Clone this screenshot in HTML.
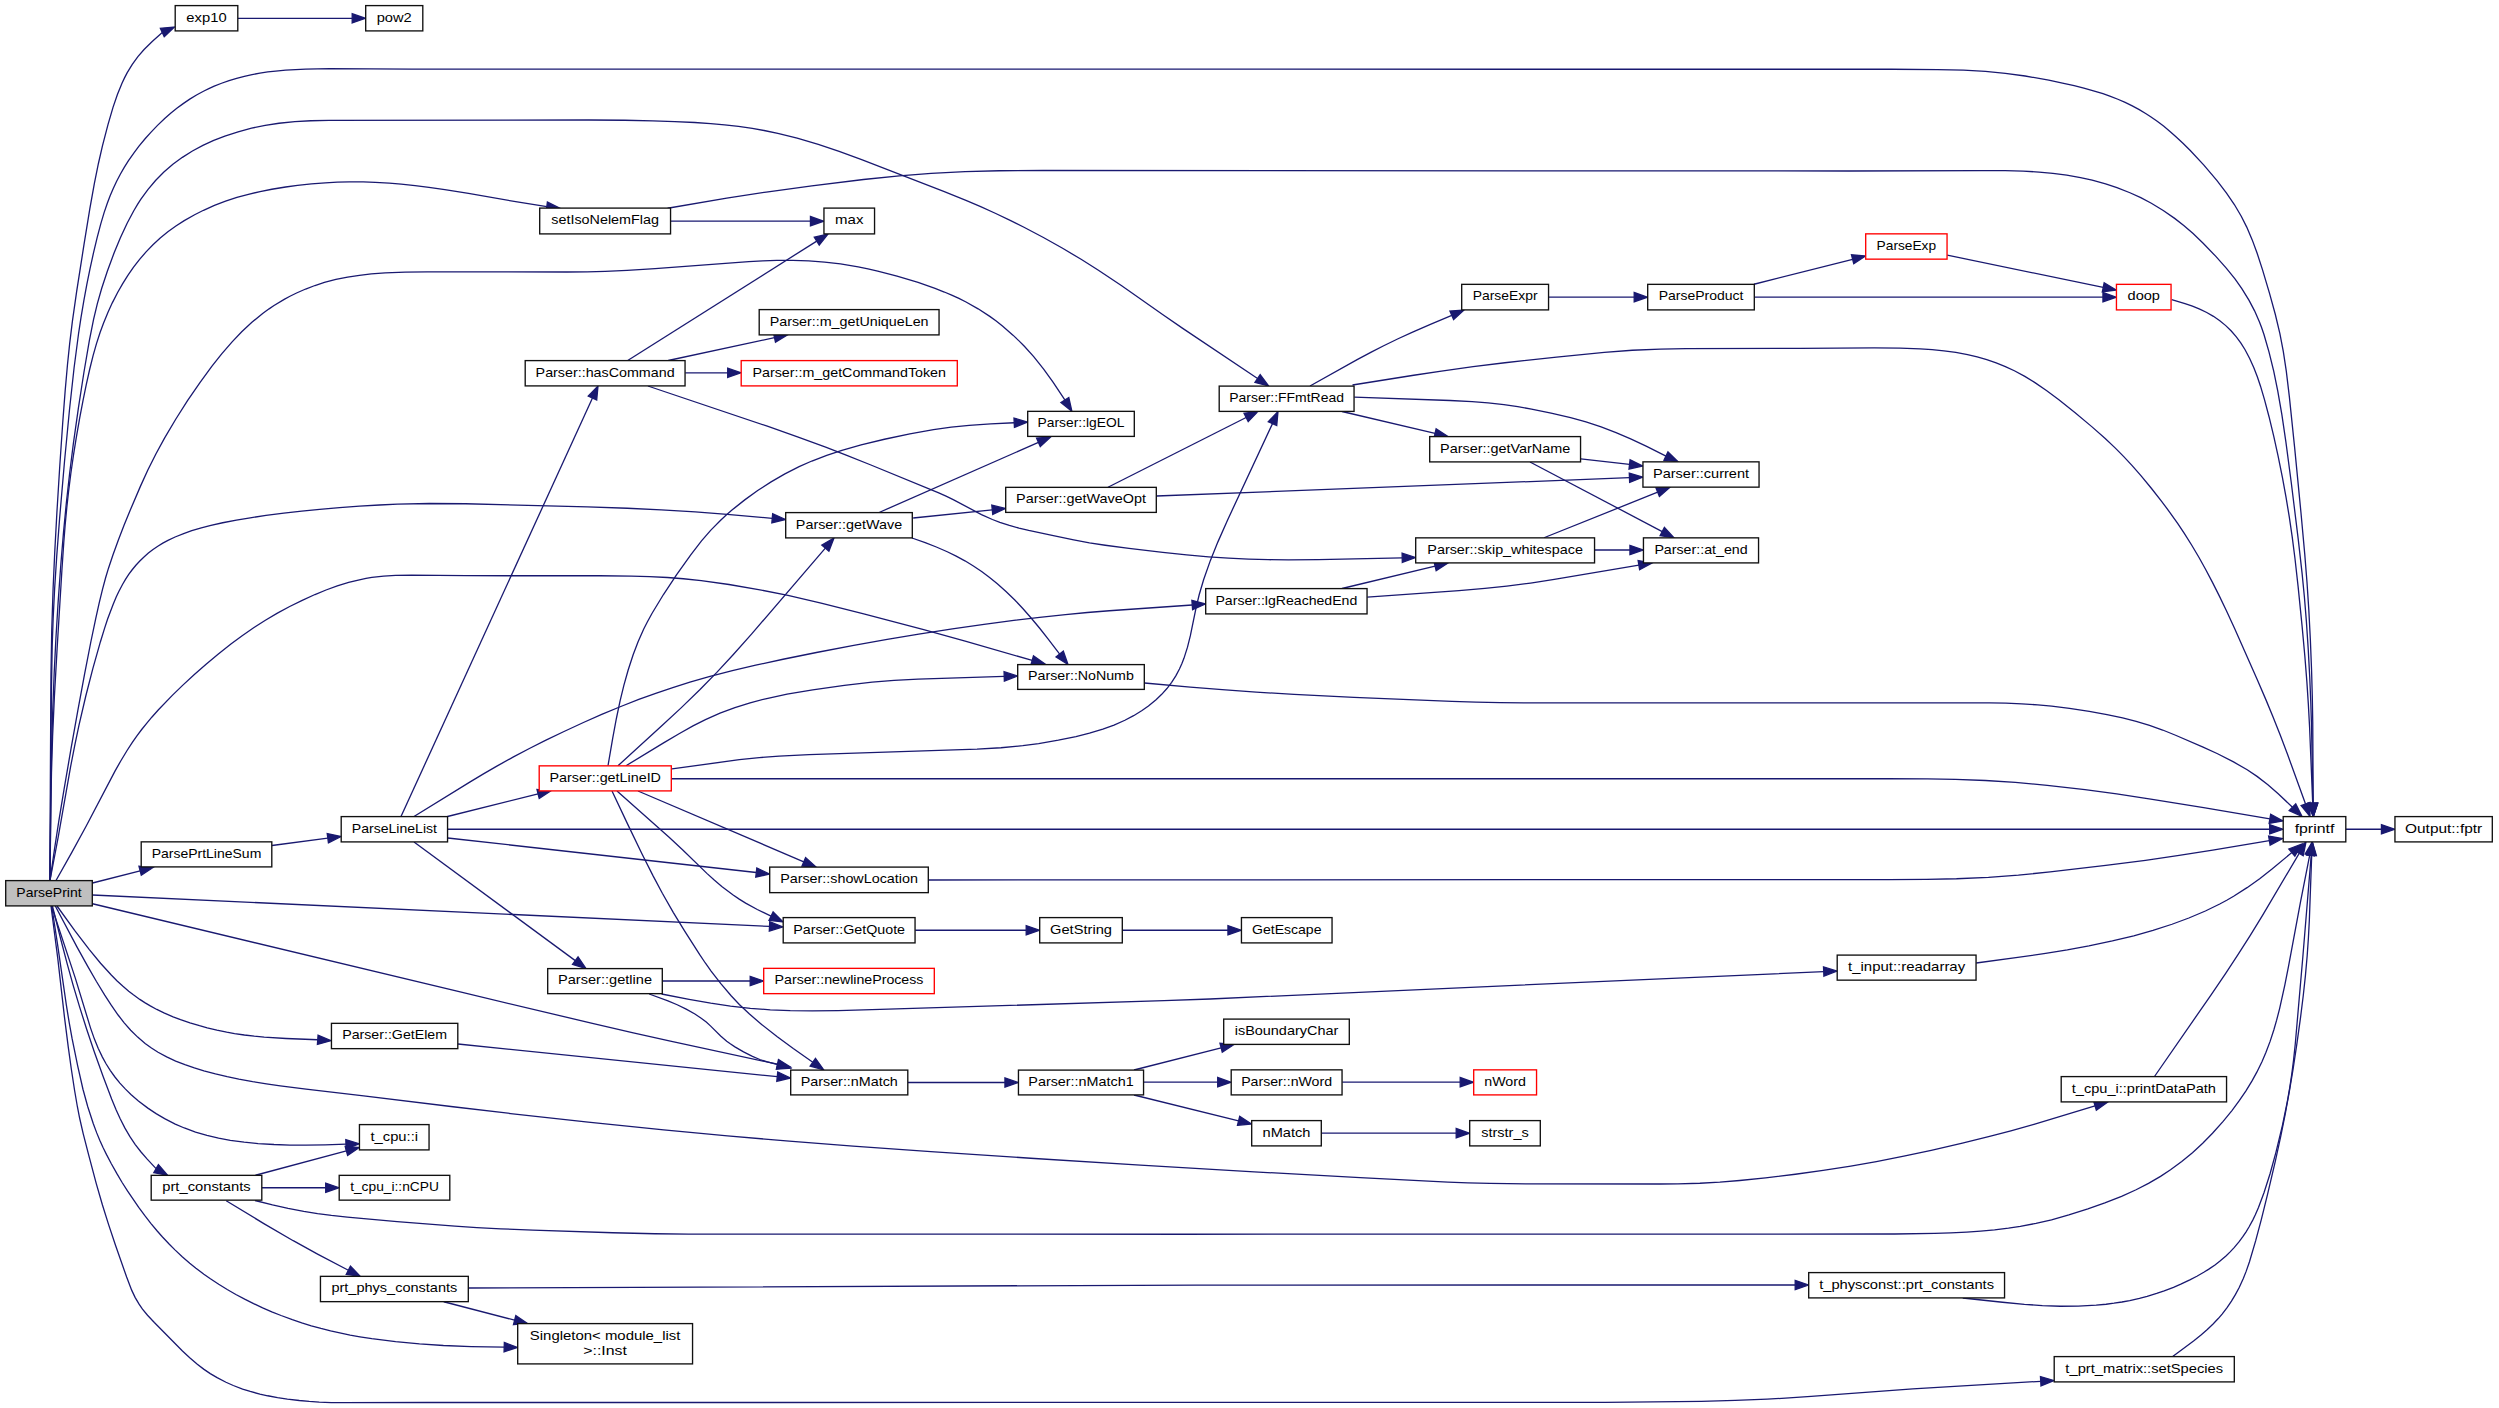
<!DOCTYPE html><html><head><meta charset="utf-8"><style>html,body{margin:0;padding:0;background:#fff;overflow:hidden}svg{display:block}text{font-family:"Liberation Sans",sans-serif;font-size:13.1px;fill:#000}</style></head><body>
<svg width="2499" height="1408" viewBox="0 0 2499 1408">
<rect x="0" y="0" width="2499" height="1408" fill="#fff"/>
<g fill="none" stroke="#191970" stroke-width="1.3">
<path d="M50.00,880.50 L50.33,782.50 L50.97,674.50 L51.73,630.51 L53.10,588.54 L54.72,552.57 L56.89,512.63 L59.72,466.72 L62.72,422.82 L65.16,390.92 L67.45,365.02 L69.72,343.14 L72.39,321.31 L76.63,291.62 L84.06,244.20 L89.85,208.67 L94.43,183.08 L98.41,163.49 L102.45,145.96 L107.98,124.68 L113.01,107.41 L117.50,94.20 L122.00,83.19 L124.52,77.85 L127.24,72.64 L132.29,64.30 L137.90,56.57 L144.08,49.45 L152.21,41.42 L162.28,32.47"/>
<path d="M50.00,880.50 L51.42,692.51 L52.18,646.51 L53.14,618.53 L54.64,588.57 L56.70,556.64 L59.58,518.75 L64.55,460.97 L69.53,409.21 L74.12,367.46 L78.54,333.76 L80.95,317.94 L83.94,300.20 L86.84,284.47 L89.99,268.79 L93.43,253.16 L97.14,237.61 L100.70,224.08 L104.11,212.60 L107.30,203.17 L110.14,195.74 L113.25,188.45 L116.64,181.29 L120.31,174.28 L124.25,167.42 L128.48,160.71 L134.15,152.55 L138.97,146.21 L145.31,138.52 L150.61,132.57 L157.51,125.40 L164.69,118.54 L170.66,113.31 L176.83,108.33 L183.19,103.61 L189.76,99.16 L196.52,95.02 L203.47,91.22 L208.81,88.59 L214.23,86.17 L221.58,83.24 L229.06,80.62 L236.64,78.31 L244.32,76.30 L252.07,74.58 L259.90,73.14 L267.78,71.96 L275.70,71.03 L285.64,70.14 L305.58,69.03 L329.56,68.66 L411.55,69.21 L1891.55,69.23 L1937.55,69.53 L1963.53,70.20 L1985.48,71.44 L2005.36,73.31 L2025.15,76.00 L2048.76,80.18 L2062.47,83.02 L2074.16,85.69 L2083.85,88.11 L2093.47,90.76 L2102.98,93.72 L2110.48,96.35 L2117.88,99.24 L2125.14,102.42 L2132.27,105.89 L2139.25,109.65 L2146.06,113.71 L2151.05,116.95 L2157.55,121.52 L2163.86,126.35 L2169.99,131.41 L2175.96,136.68 L2183.21,143.52 L2190.27,150.56 L2203.88,165.17 L2216.82,180.39 L2226.53,193.04 L2234.36,204.53 L2241.39,216.48 L2246.74,227.10 L2252.22,239.88 L2257.05,252.97 L2262.62,270.07 L2269.46,293.07 L2275.28,314.27 L2279.89,333.70 L2283.29,351.34 L2286.29,371.08 L2289.37,396.89 L2294.54,446.62 L2300.93,512.31 L2304.75,554.14 L2306.98,582.05 L2308.82,609.98 L2310.37,639.94 L2311.56,669.92 L2312.29,695.90 L2312.74,721.90 L2313.19,803.20"/>
<path d="M50.00,880.50 L50.96,780.51 L51.66,746.51 L52.73,710.53 L54.21,672.56 L55.90,638.60 L58.09,602.67 L60.81,564.77 L63.46,532.88 L66.33,503.02 L69.64,473.21 L73.39,443.44 L78.42,407.80 L83.94,372.23 L89.34,340.69 L93.63,319.13 L97.35,303.60 L101.72,288.26 L107.33,271.21 L114.26,252.47 L120.38,237.70 L127.13,223.27 L133.65,211.00 L137.70,204.19 L140.92,199.20 L147.87,189.57 L155.54,180.51 L163.90,172.09 L172.87,164.35 L182.39,157.33 L192.42,151.01 L202.89,145.38 L213.73,140.42 L224.86,136.10 L238.11,131.76 L251.58,128.15 L265.21,125.31 L278.99,123.24 L294.85,121.66 L310.80,120.77 L328.78,120.36 L588.78,120.02 L624.78,120.25 L652.77,120.81 L674.76,121.56 L694.73,122.49 L710.69,123.54 L724.62,124.78 L738.50,126.38 L752.33,128.41 L764.12,130.51 L777.80,133.40 L797.18,138.24 L818.28,144.40 L839.15,151.32 L861.66,159.60 L943.69,191.43 L965.95,200.36 L980.66,206.65 L995.23,213.23 L1009.67,220.10 L1023.98,227.25 L1043.42,237.53 L1062.60,248.30 L1081.50,259.53 L1098.42,270.18 L1121.69,285.74 L1162.60,314.47 L1182.36,328.09 L1257.57,378.56"/>
<path d="M50.00,880.50 L50.82,808.50 L51.48,772.51 L52.60,736.53 L54.40,696.57 L57.11,648.65 L61.87,570.80 L63.74,542.86 L65.16,524.92 L66.85,507.00 L68.60,491.10 L70.87,473.25 L73.43,455.44 L76.27,437.67 L79.71,417.97 L83.05,400.29 L86.26,384.62 L89.76,369.01 L93.15,355.44 L96.41,343.92 L100.08,332.54 L103.49,323.18 L108.01,312.14 L112.17,303.09 L117.62,292.46 L122.55,283.81 L127.86,275.39 L133.54,267.22 L139.60,259.38 L146.07,251.89 L152.95,244.79 L160.22,238.10 L167.88,231.84 L175.90,226.03 L184.25,220.65 L194.62,214.75 L203.51,210.29 L214.42,205.45 L225.56,201.19 L236.91,197.47 L248.42,194.28 L260.07,191.56 L271.83,189.25 L285.63,187.01 L297.51,185.43 L311.41,183.94 L325.35,182.83 L337.32,182.20 L349.30,181.90 L363.28,181.96 L375.25,182.36 L389.21,183.19 L401.16,184.19 L415.08,185.63 L428.97,187.32 L444.81,189.54 L468.50,193.35 L515.64,201.66 L546.81,206.55"/>
<path d="M50.00,880.50 L54.54,848.83 L58.80,821.15 L64.00,789.58 L71.11,748.18 L77.77,710.77 L84.71,673.41 L90.82,642.00 L95.72,618.51 L99.21,602.90 L102.50,589.30 L105.61,577.73 L108.50,568.18 L112.93,554.96 L118.37,539.95 L124.13,525.06 L130.19,510.26 L140.39,486.37 L147.84,470.01 L155.88,453.94 L164.53,438.18 L175.72,419.25 L187.52,400.70 L199.94,382.56 L211.78,366.46 L221.69,353.93 L232.11,341.83 L241.73,331.76 L251.89,322.27 L262.66,313.50 L269.08,308.84 L274.02,305.52 L284.21,299.36 L289.45,296.53 L296.57,293.00 L305.66,289.02 L314.94,285.51 L324.39,282.48 L335.91,279.47 L347.59,277.09 L359.40,275.27 L371.29,273.93 L385.23,272.91 L405.20,272.13 L427.19,271.79 L567.19,271.98 L587.18,271.78 L605.17,271.34 L627.14,270.41 L655.08,268.66 L748.81,261.65 L762.78,260.87 L776.76,260.40 L792.73,260.34 L808.69,260.87 L824.62,262.06 L840.47,263.94 L858.20,266.85 L867.98,268.82 L877.72,271.03 L897.04,276.08 L918.07,282.47 L935.05,288.39 L944.34,292.02 L951.68,295.13 L958.91,298.46 L966.02,302.02 L978.13,308.83 L989.78,316.41 L996.21,321.09 L1002.46,326.01 L1012.97,335.15 L1018.75,340.64 L1024.35,346.31 L1033.70,356.64 L1043.64,369.04 L1052.85,381.85 L1064.84,399.98"/>
<path d="M50.00,880.50 L58.15,837.26 L70.66,766.37 L74.86,744.77 L79.00,725.21 L85.79,696.00 L92.76,668.88 L100.36,641.94 L104.47,628.57 L107.61,619.08 L113.20,604.15 L116.31,596.83 L118.83,591.44 L122.50,584.45 L125.49,579.38 L128.72,574.48 L132.18,569.77 L135.88,565.27 L139.82,560.98 L143.99,556.93 L148.39,553.11 L153.00,549.54 L157.80,546.21 L162.80,543.15 L167.97,540.35 L175.10,536.98 L184.28,533.29 L191.78,530.70 L201.31,527.85 L210.96,525.36 L222.65,522.75 L236.39,520.11 L250.19,517.80 L266.01,515.44 L283.85,513.11 L301.73,511.10 L319.65,509.34 L339.57,507.64 L359.52,506.18 L379.48,505.00 L397.46,504.22 L429.44,503.50 L465.43,503.76 L587.39,506.97 L627.36,508.26 L661.33,509.78 L695.26,511.85 L727.16,514.31 L772.25,518.34"/>
<path d="M56.00,880.50 L71.69,852.61 L86.10,826.30 L114.86,771.40 L120.73,760.96 L126.91,750.73 L132.34,742.41 L136.91,735.89 L141.68,729.52 L146.65,723.29 L151.79,717.20 L158.45,709.76 L172.30,695.38 L182.33,685.62 L194.07,674.76 L206.08,664.21 L218.36,653.98 L230.93,644.10 L242.16,635.77 L253.64,627.79 L265.39,620.22 L277.40,613.11 L289.69,606.48 L302.22,600.30 L314.95,594.53 L326.03,589.99 L337.28,585.91 L348.67,582.42 L358.28,580.01 L366.02,578.43 L371.87,577.45 L383.66,576.03 L395.56,575.29 L411.52,575.06 L465.50,575.72 L599.50,575.77 L631.50,576.04 L649.48,576.56 L667.44,577.50 L683.38,578.75 L701.26,580.65 L728.99,584.51 L758.55,589.57 L787.95,595.47 L821.10,603.02 L863.76,613.76 L923.68,629.70 L966.08,641.43 L1032.20,660.37"/>
<path d="M92.50,883.00 L140.12,870.80"/>
<path d="M92.50,895.00 L769.51,926.38"/>
<path d="M92.50,903.75 L458.12,991.48 L592.38,1023.38 L633.30,1032.85 L670.38,1041.15 L777.49,1064.22"/>
<path d="M57.00,906.00 L74.61,930.27 L89.15,949.35 L100.56,963.24 L111.28,975.05 L116.88,980.68 L122.69,986.07 L128.71,991.19 L133.38,994.83 L139.80,999.42 L144.77,1002.64 L149.85,1005.68 L156.81,1009.45 L163.95,1012.91 L173.09,1016.81 L180.53,1019.63 L189.97,1022.84 L199.51,1025.74 L207.21,1027.83 L216.91,1030.15 L226.68,1032.16 L234.53,1033.55 L244.39,1035.00 L254.29,1036.18 L264.22,1037.11 L286.07,1038.48 L317.73,1039.77"/>
<path d="M55.30,906.00 L76.79,946.67 L87.46,965.90 L96.44,981.49 L104.73,995.16 L111.24,1005.22 L118.11,1015.00 L124.20,1022.82 L130.70,1030.22 L137.67,1037.12 L145.13,1043.43 L151.45,1048.04 L158.06,1052.23 L166.69,1056.93 L175.67,1061.07 L184.91,1064.71 L194.33,1067.94 L203.88,1070.81 L215.46,1073.88 L227.13,1076.62 L238.86,1079.08 L252.61,1081.64 L266.42,1083.87 L280.27,1085.85 L306.06,1089.12 L363.67,1095.88 L453.01,1106.77 L510.61,1113.54 L588.13,1122.13 L663.74,1129.87 L727.46,1135.86 L789.23,1141.15 L853.04,1146.08 L930.84,1151.61 L1030.62,1158.23 L1140.41,1165.08 L1254.21,1171.79 L1360.05,1177.66 L1447.94,1182.07 L1467.92,1182.87 L1489.91,1183.45 L1525.90,1183.84 L1659.90,1184.02 L1677.89,1183.89 L1699.86,1183.27 L1719.81,1182.20 L1739.73,1180.52 L1765.59,1177.81 L1795.37,1174.24 L1823.11,1170.45 L1850.77,1166.13 L1876.37,1161.61 L1903.84,1156.21 L1931.22,1150.35 L1962.40,1143.17 L1989.58,1136.47 L2010.85,1130.85 L2033.94,1124.33 L2095.00,1105.79"/>
<path d="M51.50,906.00 L75.31,978.17 L90.49,1027.87 L94.43,1039.12 L98.17,1048.26 L102.41,1057.12 L106.20,1063.98 L110.37,1070.62 L114.94,1077.00 L119.91,1083.10 L125.25,1088.91 L130.93,1094.43 L138.42,1100.93 L147.87,1108.14 L156.10,1113.65 L164.63,1118.67 L175.24,1124.04 L184.33,1127.98 L195.51,1132.05 L206.94,1135.41 L218.56,1138.14 L230.31,1140.30 L244.13,1142.20 L258.05,1143.53 L274.00,1144.51 L289.98,1145.03 L305.97,1145.12 L325.04,1144.87 L345.96,1144.21"/>
<path d="M52.40,906.00 L60.69,938.97 L67.28,964.12 L73.18,985.31 L79.44,1006.40 L86.68,1029.27 L94.35,1052.01 L103.13,1076.48 L111.64,1098.91 L116.19,1110.00 L120.31,1119.07 L124.81,1127.90 L129.79,1136.39 L135.09,1144.30 L140.83,1151.73 L147.00,1158.88 L156.07,1168.62"/>
<path d="M51.70,906.00 L57.73,945.54 L66.33,1004.92 L69.21,1022.68 L72.06,1038.41 L77.68,1065.83 L82.97,1089.23 L87.70,1106.54 L93.23,1123.57 L96.72,1132.88 L99.76,1140.22 L103.04,1147.48 L106.55,1154.65 L111.20,1163.49 L117.05,1173.94 L122.14,1182.52 L127.47,1190.97 L138.73,1207.45 L144.66,1215.47 L150.82,1223.33 L157.21,1230.98 L162.50,1236.96 L169.33,1244.21 L174.96,1249.85 L182.23,1256.65 L189.75,1263.18 L195.94,1268.19 L203.89,1274.20 L210.40,1278.79 L218.72,1284.28 L227.22,1289.50 L235.87,1294.46 L244.67,1299.16 L253.60,1303.61 L262.65,1307.82 L271.81,1311.78 L281.07,1315.50 L292.31,1319.66 L301.77,1322.85 L311.30,1325.79 L320.91,1328.48 L330.59,1330.92 L350.12,1335.08 L359.95,1336.83 L371.79,1338.67 L395.59,1341.67 L419.47,1343.94 L443.41,1345.49 L471.18,1346.54 L504.21,1347.13"/>
<path d="M51.00,906.00 L57.68,957.57 L64.47,1017.18 L68.24,1046.94 L71.28,1068.73 L74.60,1090.48 L77.30,1106.25 L79.61,1118.02 L83.18,1133.61 L88.65,1154.92 L96.35,1183.92 L102.45,1205.05 L108.45,1224.13 L115.41,1245.00 L126.64,1277.08 L131.67,1290.13 L135.08,1297.33 L139.07,1304.18 L142.48,1309.06 L147.52,1315.21 L154.35,1322.48 L182.47,1350.92 L189.73,1357.79 L197.31,1364.28 L203.66,1369.11 L210.26,1373.59 L217.12,1377.68 L225.98,1382.25 L233.28,1385.50 L242.61,1389.03 L250.22,1391.46 L259.87,1394.04 L267.67,1395.76 L277.50,1397.56 L287.39,1399.05 L299.29,1400.50 L309.25,1401.43 L319.22,1402.10 L331.21,1402.55 L343.21,1402.72 L427.20,1402.50 L1605.20,1402.44 L1701.20,1401.44 L1735.18,1400.46 L1767.15,1399.14 L1789.12,1397.93 L1811.07,1396.47 L1912.79,1388.85 L2040.72,1381.28"/>
<path d="M238.00,18.30 L352.20,18.30"/>
<path d="M670.75,221.20 L810.45,221.20"/>
<path d="M667.60,208.25 L726.75,198.20 L766.27,192.03 L811.84,185.79 L863.46,179.51 L899.27,175.83 L931.16,173.34 L965.11,171.62 L999.09,170.76 L1043.09,170.52 L1849.09,170.99 L1981.09,170.59 L2005.09,170.70 L2023.07,171.16 L2039.02,172.04 L2052.93,173.29 L2066.77,175.11 L2080.51,177.57 L2092.17,180.19 L2105.61,183.91 L2116.95,187.67 L2129.92,192.74 L2140.78,197.70 L2151.34,203.25 L2163.24,210.44 L2174.66,218.38 L2184.07,225.72 L2193.08,233.55 L2203.15,243.21 L2215.61,256.15 L2226.27,268.06 L2234.98,278.93 L2241.83,288.65 L2249.07,300.40 L2254.58,310.84 L2259.37,321.69 L2261.49,327.25 L2264.05,334.79 L2269.04,352.05 L2273.77,371.46 L2277.78,391.03 L2281.87,414.67 L2285.95,442.37 L2291.19,482.02 L2298.28,539.59 L2302.09,573.37 L2304.42,597.25 L2306.36,621.17 L2308.22,649.11 L2309.73,677.06 L2310.74,701.04 L2311.49,725.03 L2313.00,803.20"/>
<path d="M627.70,360.50 L816.75,241.10"/>
<path d="M668.20,360.50 L774.50,337.60"/>
<path d="M685.25,372.80 L727.70,372.80"/>
<path d="M647.90,386.00 L767.31,426.20 L797.51,436.80 L825.65,447.20 L846.17,455.13 L870.31,464.77 L938.75,492.92 L946.04,496.18 L953.22,499.67 L981.48,514.58 L992.40,519.49 L999.85,522.34 L1009.33,525.43 L1018.96,528.07 L1028.68,530.41 L1052.14,535.47 L1073.69,539.89 L1089.43,542.77 L1105.23,545.25 L1129.01,548.45 L1162.78,552.45 L1186.64,554.95 L1208.56,556.82 L1228.52,558.10 L1248.50,559.05 L1268.48,559.68 L1288.48,559.97 L1318.48,559.70 L1402.20,557.80"/>
<path d="M1310.00,386.00 L1357.14,359.66 L1371.24,352.11 L1383.69,345.73 L1398.07,338.74 L1412.60,332.08 L1430.40,324.29 L1451.79,315.28"/>
<path d="M1548.75,297.20 L1634.20,297.20"/>
<path d="M1754.00,284.25 L1852.61,259.27"/>
<path d="M1754.50,297.20 L2102.95,297.20"/>
<path d="M1947.25,255.20 L2103.22,287.32"/>
<path d="M2171.70,299.60 L2184.99,303.68 L2192.46,306.23 L2199.73,309.13 L2206.74,312.48 L2213.45,316.32 L2219.81,320.70 L2225.76,325.61 L2231.27,331.02 L2236.32,336.87 L2240.92,343.13 L2245.07,349.76 L2249.67,358.45 L2253.74,367.47 L2257.33,376.72 L2260.51,386.17 L2264.49,399.57 L2269.10,416.96 L2273.77,436.40 L2278.06,455.93 L2282.40,477.49 L2286.01,497.16 L2289.28,516.89 L2292.17,536.67 L2294.97,558.49 L2298.09,586.31 L2302.09,626.11 L2304.83,655.98 L2306.88,681.90 L2308.33,703.85 L2309.61,727.81 L2312.71,803.21"/>
<path d="M1352.50,385.00 L1413.73,375.25 L1441.41,371.03 L1473.10,366.65 L1504.86,362.73 L1556.55,357.04 L1604.32,352.40 L1632.23,350.26 L1660.18,349.04 L1686.16,348.61 L1800.16,348.35 L1874.16,347.88 L1900.15,348.13 L1920.13,348.83 L1932.08,349.61 L1943.99,350.80 L1955.82,352.47 L1967.54,354.66 L1977.21,356.94 L1986.76,359.66 L1996.16,362.86 L2005.38,366.56 L2014.36,370.76 L2024.82,376.42 L2034.95,382.67 L2046.43,390.53 L2059.22,400.08 L2074.85,412.55 L2091.74,426.62 L2105.22,438.49 L2115.36,448.09 L2123.77,456.61 L2131.92,465.40 L2141.13,475.92 L2151.33,488.23 L2161.22,500.80 L2169.59,512.01 L2177.65,523.43 L2184.30,533.40 L2191.76,545.23 L2198.88,557.26 L2205.68,569.48 L2212.21,581.86 L2219.39,596.15 L2226.32,610.57 L2234.73,628.71 L2257.42,679.90 L2266.08,700.12 L2272.95,716.76 L2280.31,735.35 L2287.41,754.04 L2305.54,803.97"/>
<path d="M1354.25,397.20 L1450.19,400.49 L1472.14,401.61 L1488.06,402.90 L1503.92,404.65 L1517.75,406.65 L1531.52,409.10 L1551.11,413.10 L1570.56,417.67 L1585.96,421.93 L1601.12,426.87 L1616.02,432.54 L1630.66,438.85 L1646.65,446.38 L1665.97,456.09"/>
<path d="M1342.00,411.50 L1435.06,433.45"/>
<path d="M1580.80,458.80 L1629.54,464.46"/>
<path d="M1530.00,462.00 L1662.23,531.56"/>
<path d="M1156.50,496.00 L1629.46,477.71"/>
<path d="M1108.00,487.25 L1246.13,417.50"/>
<path d="M1544.00,537.75 L1657.65,492.20"/>
<path d="M1594.75,550.00 L1629.95,550.00"/>
<path d="M1342.00,588.50 L1435.07,566.11"/>
<path d="M1367.25,597.20 L1459.02,590.71 L1484.91,588.43 L1506.78,586.08 L1530.58,583.02 L1554.31,579.47 L1638.87,565.13"/>
<path d="M879.10,512.50 L1038.43,442.36"/>
<path d="M913.20,518.00 L992.27,509.78"/>
<path d="M912.00,538.00 L925.19,542.66 L936.34,546.99 L947.27,551.76 L956.19,556.10 L964.91,560.81 L973.40,565.94 L981.63,571.50 L989.60,577.46 L997.33,583.75 L1006.25,591.70 L1014.81,600.04 L1023.02,608.73 L1030.93,617.71 L1039.69,628.25 L1048.03,638.82 L1059.68,654.12"/>
<path d="M1144.50,683.00 L1190.32,687.07 L1222.21,689.67 L1256.12,692.10 L1294.05,694.47 L1353.98,697.41 L1451.90,701.34 L1475.88,702.11 L1499.87,702.59 L1523.87,702.78 L1989.86,702.93 L2005.85,703.21 L2021.81,703.84 L2037.75,704.88 L2051.66,706.19 L2069.51,708.44 L2089.28,711.43 L2106.98,714.61 L2122.61,717.94 L2136.16,721.35 L2149.52,725.35 L2162.65,730.02 L2175.59,735.24 L2203.08,747.09 L2217.58,753.76 L2233.50,761.90 L2247.19,769.81 L2257.04,776.37 L2267.91,784.76 L2278.20,793.79 L2292.47,807.22"/>
<path d="M608.00,765.75 L612.73,738.15 L616.38,718.50 L620.09,700.90 L623.86,685.37 L628.17,669.99 L633.14,654.82 L638.08,641.77 L643.73,629.04 L647.31,621.94 L652.10,613.24 L663.46,594.52 L676.65,574.52 L690.57,555.04 L701.51,540.88 L710.62,530.38 L720.39,520.47 L726.25,515.07 L732.28,509.84 L744.74,499.89 L757.69,490.57 L771.09,481.90 L784.90,473.92 L799.12,466.70 L811.86,461.03 L826.74,455.30 L841.89,450.30 L861.12,444.89 L884.44,439.25 L909.87,433.91 L933.48,429.71 L951.29,427.21 L969.17,425.36 L990.74,423.81 L1014.22,422.75"/>
<path d="M618.00,765.75 L662.33,725.32 L681.38,707.63 L700.04,689.54 L716.81,672.38 L733.13,654.79 L751.72,633.86 L825.34,548.10"/>
<path d="M626.00,765.75 L663.59,742.89 L679.05,733.70 L693.00,725.91 L705.45,719.60 L720.01,713.14 L734.91,707.53 L750.13,702.77 L765.58,698.76 L787.08,694.20 L812.68,689.77 L844.36,685.30 L872.17,682.13 L894.08,680.40 L918.03,679.11 L1004.21,676.42"/>
<path d="M672.00,768.80 L739.39,759.72 L759.26,757.63 L779.18,756.09 L809.13,754.64 L977.03,749.17 L1000.96,747.76 L1022.81,745.71 L1038.65,743.61 L1058.35,740.21 L1075.95,736.58 L1089.51,733.22 L1102.85,729.20 L1114.02,725.09 L1124.88,720.28 L1133.62,715.70 L1142.01,710.54 L1148.44,705.99 L1156.04,699.76 L1161.71,694.34 L1166.93,688.54 L1171.64,682.37 L1175.81,675.87 L1179.44,669.06 L1181.82,663.78 L1183.94,658.36 L1187.50,647.18 L1190.37,635.67 L1195.95,608.32 L1199.18,594.76 L1203.68,579.46 L1210.32,560.64 L1217.81,542.12 L1227.50,520.17 L1272.50,423.61"/>
<path d="M671.50,778.75 L1887.50,778.74 L1927.50,778.91 L1955.49,779.38 L1985.46,780.50 L2015.39,782.43 L2047.25,785.38 L2085.00,789.72 L2116.71,793.96 L2152.31,799.30 L2203.64,807.63 L2269.89,818.79"/>
<path d="M638.00,791.00 L803.77,861.78"/>
<path d="M617.00,791.00 L669.39,837.42 L682.53,849.70 L706.88,873.37 L714.23,880.07 L721.79,886.46 L732.80,894.77 L739.23,899.12 L745.64,903.13 L757.29,909.54 L771.06,916.14"/>
<path d="M612.00,791.00 L628.24,825.35 L642.17,854.16 L652.96,875.60 L662.34,893.25 L673.23,912.34 L684.69,931.10 L699.72,954.71 L705.31,962.99 L711.10,971.09 L720.83,983.68 L731.13,995.77 L739.33,1004.44 L749.47,1014.03 L761.61,1024.40 L777.28,1036.78 L793.26,1048.56 L812.80,1062.18"/>
<path d="M401.00,816.50 L592.47,398.09"/>
<path d="M414.00,816.50 L470.16,781.84 L483.88,773.61 L497.73,765.61 L513.47,756.90 L529.39,748.51 L545.46,740.42 L563.47,731.73 L583.43,722.49 L601.73,714.43 L620.19,706.74 L638.80,699.45 L655.71,693.29 L672.75,687.52 L689.92,682.16 L709.14,676.67 L732.37,670.66 L755.73,665.16 L783.09,659.24 L816.42,652.51 L853.74,645.38 L887.20,639.36 L918.76,634.09 L952.36,628.90 L984.04,624.38 L1013.78,620.46 L1039.59,617.33 L1065.44,614.55 L1087.34,612.51 L1109.27,610.75 L1192.24,605.02"/>
<path d="M447.50,816.50 L538.09,793.96"/>
<path d="M447.75,829.25 L2269.70,829.25"/>
<path d="M447.75,838.00 L756.28,872.52"/>
<path d="M414.00,842.00 L575.29,960.62"/>
<path d="M272.00,845.50 L327.81,838.22"/>
<path d="M928.50,880.00 L1888.50,879.53 L1926.50,879.31 L1956.49,878.73 L1988.45,877.36 L2018.36,875.14 L2050.18,871.88 L2105.80,865.32 L2145.48,860.28 L2179.13,855.48 L2212.71,850.17 L2269.38,840.66"/>
<path d="M915.25,930.25 L1026.20,930.25"/>
<path d="M1122.50,930.25 L1227.95,930.25"/>
<path d="M662.50,981.00 L750.20,981.00"/>
<path d="M661.60,994.00 L689.07,999.42 L710.72,1003.23 L730.50,1006.12 L750.36,1008.31 L770.28,1009.78 L790.25,1010.58 L812.24,1010.84 L838.23,1010.55 L880.22,1009.46 L1164.08,1000.62 L1210.05,998.98 L1823.71,971.59"/>
<path d="M649.20,994.00 L667.95,1000.97 L677.19,1004.76 L686.20,1009.09 L694.91,1013.98 L701.55,1018.42 L706.26,1022.11 L710.71,1026.12 L720.65,1035.97 L726.70,1041.17 L729.91,1043.54 L734.91,1046.84 L743.54,1051.89 L752.44,1056.43 L759.81,1059.51 L767.41,1061.95 L777.70,1064.68"/>
<path d="M1976.25,963.00 L2015.90,957.73 L2045.59,953.47 L2067.30,949.95 L2088.92,945.93 L2112.39,940.96 L2133.76,935.76 L2153.00,930.39 L2172.01,924.26 L2188.85,918.00 L2205.39,910.98 L2219.74,904.00 L2226.74,900.22 L2233.63,896.22 L2247.05,887.66 L2260.02,878.41 L2272.34,868.81 L2291.83,852.58"/>
<path d="M458.00,1044.00 L777.27,1076.65"/>
<path d="M908.00,1082.50 L1004.95,1082.50"/>
<path d="M1134.00,1070.00 L1221.11,1047.79"/>
<path d="M1143.75,1082.20 L1217.70,1082.20"/>
<path d="M1134.00,1095.00 L1238.59,1120.81"/>
<path d="M1342.25,1082.20 L1460.20,1082.20"/>
<path d="M1321.50,1133.20 L1456.20,1133.20"/>
<path d="M2154.50,1076.50 L2211.45,994.30 L2226.03,972.78 L2238.14,954.41 L2249.97,935.87 L2262.54,915.43 L2299.18,853.42"/>
<path d="M255.50,1175.25 L346.40,1150.94"/>
<path d="M262.00,1187.75 L325.70,1187.75"/>
<path d="M255.00,1200.50 L272.47,1204.81 L288.07,1208.28 L303.75,1211.31 L317.54,1213.55 L331.41,1215.41 L347.30,1217.18 L397.09,1221.72 L454.92,1226.15 L476.88,1227.55 L500.84,1228.80 L532.81,1230.11 L612.77,1232.77 L654.75,1233.77 L688.75,1234.03 L1184.75,1234.24 L1894.74,1234.02 L1934.73,1233.42 L1950.72,1232.87 L1966.69,1232.03 L1980.65,1231.07 L1994.58,1229.82 L2008.46,1228.16 L2020.30,1226.38 L2035.98,1223.41 L2051.52,1219.77 L2068.84,1214.95 L2087.88,1208.90 L2104.85,1202.91 L2121.56,1196.29 L2136.10,1189.74 L2148.50,1183.39 L2160.54,1176.39 L2170.52,1169.84 L2181.74,1161.57 L2192.47,1152.68 L2202.72,1143.23 L2212.50,1133.28 L2223.13,1121.39 L2231.94,1110.54 L2239.08,1100.94 L2245.80,1091.05 L2252.04,1080.88 L2256.83,1072.18 L2262.07,1061.48 L2265.99,1052.34 L2270.19,1041.16 L2273.88,1029.79 L2276.63,1020.20 L2279.61,1008.59 L2284.81,985.18 L2288.65,965.56 L2300.38,902.64 L2309.71,855.05"/>
<path d="M226.20,1200.80 L263.85,1223.58 L293.22,1240.69 L317.58,1254.12 L348.34,1270.23"/>
<path d="M468.50,1288.00 L1196.49,1285.05 L1795.20,1285.00"/>
<path d="M443.75,1301.75 L514.63,1320.16"/>
<path d="M1962.75,1298.00 L2002.52,1302.26 L2024.41,1304.35 L2042.35,1305.61 L2060.31,1306.27 L2078.28,1306.18 L2096.21,1305.21 L2106.14,1304.24 L2114.04,1303.23 L2121.91,1301.99 L2129.74,1300.52 L2139.45,1298.33 L2147.15,1296.31 L2156.67,1293.44 L2164.21,1290.86 L2173.50,1287.29 L2180.83,1284.16 L2189.83,1279.91 L2196.89,1276.24 L2203.79,1272.30 L2208.84,1269.15 L2215.34,1264.66 L2220.02,1261.06 L2225.95,1255.95 L2230.16,1251.88 L2234.15,1247.61 L2239.15,1241.63 L2242.65,1236.94 L2245.93,1232.07 L2249.00,1227.05 L2252.76,1220.12 L2255.33,1214.77 L2258.49,1207.48 L2264.07,1192.53 L2270.13,1173.51 L2275.93,1152.30 L2282.50,1125.09 L2287.32,1101.60 L2289.71,1087.82 L2291.79,1074.00 L2293.56,1060.13 L2295.24,1044.22 L2302.87,956.55 L2311.21,855.25"/>
<path d="M2172.70,1356.40 L2193.55,1340.93 L2201.31,1334.69 L2207.31,1329.48 L2213.07,1324.03 L2218.49,1318.30 L2222.31,1313.81 L2227.07,1307.59 L2231.47,1301.12 L2235.51,1294.41 L2239.20,1287.48 L2243.31,1278.51 L2246.23,1271.13 L2249.48,1261.72 L2255.70,1240.64 L2261.36,1219.38 L2267.60,1194.14 L2275.34,1161.04 L2280.89,1135.64 L2285.21,1114.08 L2289.53,1090.47 L2293.11,1068.77 L2296.98,1043.06 L2300.55,1017.31 L2303.27,995.48 L2305.42,975.60 L2307.18,955.69 L2308.42,937.73 L2309.36,919.76 L2311.70,855.29"/>
<path d="M2346.00,829.25 L2381.45,829.25"/>
</g><g fill="#191970" stroke="#191970" stroke-width="1.3">
<polygon points="164.20,36.73 174.40,27.00 160.36,28.22"/>
<polygon points="2308.52,803.24 2313.30,816.50 2317.86,803.16"/>
<polygon points="1254.96,382.43 1268.60,386.00 1260.19,374.69"/>
<polygon points="546.21,211.19 560.00,208.25 547.40,201.92"/>
<polygon points="1060.89,402.45 1071.90,411.25 1068.80,397.50"/>
<polygon points="771.84,522.99 785.50,519.50 772.66,513.69"/>
<polygon points="1030.93,664.87 1045.00,664.00 1033.48,655.88"/>
<polygon points="141.28,875.32 153.00,867.50 138.96,866.28"/>
<polygon points="769.30,931.05 782.80,927.00 769.73,921.72"/>
<polygon points="776.52,1068.78 790.50,1067.00 778.47,1059.65"/>
<polygon points="317.41,1044.43 331.00,1040.70 318.06,1035.11"/>
<polygon points="2096.33,1110.26 2107.75,1102.00 2093.67,1101.31"/>
<polygon points="346.12,1148.88 359.25,1143.75 345.80,1139.54"/>
<polygon points="153.74,1172.66 167.60,1175.25 158.40,1164.57"/>
<polygon points="504.07,1351.79 517.50,1347.50 504.34,1342.46"/>
<polygon points="2041.00,1385.95 2054.00,1380.50 2040.45,1376.62"/>
<polygon points="352.20,22.97 365.50,18.30 352.20,13.63"/>
<polygon points="810.45,225.87 823.75,221.20 810.45,216.53"/>
<polygon points="2308.33,803.31 2313.30,816.50 2317.67,803.10"/>
<polygon points="819.25,245.05 828.00,234.00 814.26,237.15"/>
<polygon points="775.48,342.17 787.50,334.80 773.51,333.04"/>
<polygon points="727.70,377.47 741.00,372.80 727.70,368.13"/>
<polygon points="1402.31,562.47 1415.50,557.50 1402.10,553.14"/>
<polygon points="1453.65,319.57 1464.00,310.00 1449.94,310.99"/>
<polygon points="1634.20,301.87 1647.50,297.20 1634.20,292.53"/>
<polygon points="1853.75,263.79 1865.50,256.00 1851.46,254.74"/>
<polygon points="2102.95,301.87 2116.25,297.20 2102.95,292.53"/>
<polygon points="2102.28,291.89 2116.25,290.00 2104.17,282.74"/>
<polygon points="2308.04,803.42 2313.30,816.50 2317.37,803.01"/>
<polygon points="2301.14,805.54 2310.00,816.50 2309.94,802.40"/>
<polygon points="1663.98,460.31 1678.00,461.75 1667.95,451.86"/>
<polygon points="1433.98,437.99 1448.00,436.50 1436.13,428.90"/>
<polygon points="1629.00,469.10 1642.75,466.00 1630.08,459.83"/>
<polygon points="1660.06,535.69 1674.00,537.75 1664.40,527.43"/>
<polygon points="1629.64,482.38 1642.75,477.20 1629.28,473.05"/>
<polygon points="1248.23,421.66 1258.00,411.50 1244.02,413.33"/>
<polygon points="1659.39,496.53 1670.00,487.25 1655.92,487.86"/>
<polygon points="1629.95,554.67 1643.25,550.00 1629.95,545.33"/>
<polygon points="1436.16,570.65 1448.00,563.00 1433.98,561.57"/>
<polygon points="1639.62,569.74 1652.00,563.00 1638.12,560.52"/>
<polygon points="1040.31,446.63 1050.60,437.00 1036.55,438.08"/>
<polygon points="992.75,514.42 1005.50,508.40 991.79,505.13"/>
<polygon points="1056.04,657.04 1068.00,664.50 1063.33,651.20"/>
<polygon points="2289.21,810.57 2302.00,816.50 2295.73,803.88"/>
<polygon points="1014.44,427.42 1027.50,422.10 1013.99,418.09"/>
<polygon points="828.89,551.14 834.00,538.00 821.80,545.06"/>
<polygon points="1004.35,681.08 1017.50,676.00 1004.06,671.75"/>
<polygon points="1276.75,425.54 1278.00,411.50 1268.25,421.68"/>
<polygon points="2269.11,823.39 2283.00,821.00 2270.66,814.18"/>
<polygon points="801.93,866.07 816.00,867.00 805.60,857.48"/>
<polygon points="769.00,920.34 783.00,922.00 773.12,911.95"/>
<polygon points="810.12,1066.01 823.70,1069.80 815.47,1058.35"/>
<polygon points="596.71,400.04 598.00,386.00 588.22,396.15"/>
<polygon points="1192.60,609.68 1205.50,604.00 1191.88,600.37"/>
<polygon points="539.22,798.49 551.00,790.75 536.97,789.43"/>
<polygon points="2269.70,833.92 2283.00,829.25 2269.70,824.58"/>
<polygon points="755.76,877.16 769.50,874.00 756.80,867.88"/>
<polygon points="572.52,964.38 586.00,968.50 578.05,956.86"/>
<polygon points="328.42,842.85 341.00,836.50 327.21,833.59"/>
<polygon points="2270.13,845.27 2282.50,838.50 2268.62,836.05"/>
<polygon points="1026.20,934.92 1039.50,930.25 1026.20,925.58"/>
<polygon points="1227.95,934.92 1241.25,930.25 1227.95,925.58"/>
<polygon points="750.20,985.67 763.50,981.00 750.20,976.33"/>
<polygon points="1823.92,976.26 1837.00,971.00 1823.50,966.93"/>
<polygon points="776.43,1069.18 790.50,1068.30 778.97,1060.19"/>
<polygon points="2294.85,856.15 2302.00,844.00 2288.82,849.01"/>
<polygon points="776.79,1081.29 790.50,1078.00 777.74,1072.00"/>
<polygon points="1004.95,1087.17 1018.25,1082.50 1004.95,1077.83"/>
<polygon points="1222.27,1052.31 1234.00,1044.50 1219.96,1043.26"/>
<polygon points="1217.70,1086.87 1231.00,1082.20 1217.70,1077.53"/>
<polygon points="1237.47,1125.35 1251.50,1124.00 1239.71,1116.28"/>
<polygon points="1460.20,1086.87 1473.50,1082.20 1460.20,1077.53"/>
<polygon points="1456.20,1137.87 1469.50,1133.20 1456.20,1128.53"/>
<polygon points="2303.19,855.81 2306.00,842.00 2295.17,851.02"/>
<polygon points="347.61,1155.45 359.25,1147.50 345.19,1146.43"/>
<polygon points="325.70,1192.42 339.00,1187.75 325.70,1183.08"/>
<polygon points="2314.29,855.95 2312.30,842.00 2305.13,854.14"/>
<polygon points="346.23,1274.40 360.20,1276.25 350.45,1266.07"/>
<polygon points="1795.20,1289.67 1808.50,1285.00 1795.20,1280.33"/>
<polygon points="513.45,1324.68 527.50,1323.50 515.80,1315.64"/>
<polygon points="2315.86,855.64 2312.30,842.00 2306.55,854.87"/>
<polygon points="2316.37,855.50 2312.30,842.00 2307.04,855.08"/>
<polygon points="2381.45,833.92 2394.75,829.25 2381.45,824.58"/>
</g>
<rect x="5.70" y="880.60" width="86.60" height="25.30" fill="#bfbfbf" stroke="#111" stroke-width="1.35"/>
<text x="49.00" y="896.55" text-anchor="middle" textLength="65.23" lengthAdjust="spacingAndGlyphs">ParsePrint</text>
<rect x="175.20" y="5.60" width="62.60" height="25.30" fill="#fff" stroke="#111" stroke-width="1.35"/>
<text x="206.50" y="21.55" text-anchor="middle" textLength="40.23" lengthAdjust="spacingAndGlyphs">exp10</text>
<rect x="365.70" y="5.60" width="57.10" height="25.30" fill="#fff" stroke="#111" stroke-width="1.35"/>
<text x="394.25" y="21.55" text-anchor="middle" textLength="35.09" lengthAdjust="spacingAndGlyphs">pow2</text>
<rect x="539.70" y="208.10" width="130.85" height="25.80" fill="#fff" stroke="#111" stroke-width="1.35"/>
<text x="605.12" y="224.30" text-anchor="middle" textLength="107.70" lengthAdjust="spacingAndGlyphs">setIsoNelemFlag</text>
<rect x="823.95" y="208.10" width="50.60" height="25.80" fill="#fff" stroke="#111" stroke-width="1.35"/>
<text x="849.25" y="224.30" text-anchor="middle" textLength="28.31" lengthAdjust="spacingAndGlyphs">max</text>
<rect x="759.20" y="309.60" width="179.85" height="25.30" fill="#fff" stroke="#111" stroke-width="1.35"/>
<text x="849.12" y="325.55" text-anchor="middle" textLength="158.80" lengthAdjust="spacingAndGlyphs">Parser::m_getUniqueLen</text>
<rect x="525.20" y="360.60" width="159.85" height="25.30" fill="#fff" stroke="#111" stroke-width="1.35"/>
<text x="605.12" y="376.55" text-anchor="middle" textLength="138.97" lengthAdjust="spacingAndGlyphs">Parser::hasCommand</text>
<rect x="741.20" y="360.60" width="216.10" height="25.30" fill="#fff" stroke="#ff0000" stroke-width="1.35"/>
<text x="849.25" y="376.55" text-anchor="middle" textLength="193.48" lengthAdjust="spacingAndGlyphs">Parser::m_getCommandToken</text>
<rect x="1027.70" y="411.35" width="106.60" height="25.05" fill="#fff" stroke="#111" stroke-width="1.35"/>
<text x="1081.00" y="427.18" text-anchor="middle" textLength="86.77" lengthAdjust="spacingAndGlyphs">Parser::lgEOL</text>
<rect x="1005.70" y="487.35" width="150.60" height="25.05" fill="#fff" stroke="#111" stroke-width="1.35"/>
<text x="1081.00" y="503.18" text-anchor="middle" textLength="129.81" lengthAdjust="spacingAndGlyphs">Parser::getWaveOpt</text>
<rect x="785.70" y="512.60" width="126.60" height="25.30" fill="#fff" stroke="#111" stroke-width="1.35"/>
<text x="849.00" y="528.55" text-anchor="middle" textLength="106.23" lengthAdjust="spacingAndGlyphs">Parser::getWave</text>
<rect x="1017.70" y="664.60" width="126.60" height="24.80" fill="#fff" stroke="#111" stroke-width="1.35"/>
<text x="1081.00" y="680.30" text-anchor="middle" textLength="105.73" lengthAdjust="spacingAndGlyphs">Parser::NoNumb</text>
<rect x="1219.20" y="386.10" width="134.85" height="25.30" fill="#fff" stroke="#111" stroke-width="1.35"/>
<text x="1286.62" y="402.05" text-anchor="middle" textLength="114.59" lengthAdjust="spacingAndGlyphs">Parser::FFmtRead</text>
<rect x="1429.70" y="436.60" width="150.85" height="25.30" fill="#fff" stroke="#111" stroke-width="1.35"/>
<text x="1505.12" y="452.55" text-anchor="middle" textLength="130.08" lengthAdjust="spacingAndGlyphs">Parser::getVarName</text>
<rect x="1642.95" y="461.85" width="116.10" height="25.30" fill="#fff" stroke="#111" stroke-width="1.35"/>
<text x="1701.00" y="477.80" text-anchor="middle" textLength="96.08" lengthAdjust="spacingAndGlyphs">Parser::current</text>
<rect x="1415.70" y="537.85" width="178.85" height="25.05" fill="#fff" stroke="#111" stroke-width="1.35"/>
<text x="1505.12" y="553.67" text-anchor="middle" textLength="155.55" lengthAdjust="spacingAndGlyphs">Parser::skip_whitespace</text>
<rect x="1643.45" y="537.85" width="115.10" height="25.05" fill="#fff" stroke="#111" stroke-width="1.35"/>
<text x="1701.00" y="553.67" text-anchor="middle" textLength="93.25" lengthAdjust="spacingAndGlyphs">Parser::at_end</text>
<rect x="1205.70" y="588.60" width="161.35" height="25.30" fill="#fff" stroke="#111" stroke-width="1.35"/>
<text x="1286.38" y="604.55" text-anchor="middle" textLength="141.81" lengthAdjust="spacingAndGlyphs">Parser::lgReachedEnd</text>
<rect x="1461.70" y="284.35" width="86.85" height="25.55" fill="#fff" stroke="#111" stroke-width="1.35"/>
<text x="1505.12" y="300.43" text-anchor="middle" textLength="64.84" lengthAdjust="spacingAndGlyphs">ParseExpr</text>
<rect x="1647.70" y="284.35" width="106.60" height="25.55" fill="#fff" stroke="#111" stroke-width="1.35"/>
<text x="1701.00" y="300.43" text-anchor="middle" textLength="84.69" lengthAdjust="spacingAndGlyphs">ParseProduct</text>
<rect x="1865.70" y="233.85" width="81.35" height="25.30" fill="#fff" stroke="#ff0000" stroke-width="1.35"/>
<text x="1906.38" y="249.80" text-anchor="middle" textLength="59.50" lengthAdjust="spacingAndGlyphs">ParseExp</text>
<rect x="2116.45" y="284.35" width="54.60" height="25.55" fill="#fff" stroke="#ff0000" stroke-width="1.35"/>
<text x="2143.75" y="300.43" text-anchor="middle" textLength="32.41" lengthAdjust="spacingAndGlyphs">doop</text>
<rect x="141.20" y="841.85" width="130.60" height="25.05" fill="#fff" stroke="#111" stroke-width="1.35"/>
<text x="206.50" y="857.67" text-anchor="middle" textLength="109.62" lengthAdjust="spacingAndGlyphs">ParsePrtLineSum</text>
<rect x="341.20" y="816.60" width="106.35" height="25.30" fill="#fff" stroke="#111" stroke-width="1.35"/>
<text x="394.38" y="832.55" text-anchor="middle" textLength="85.16" lengthAdjust="spacingAndGlyphs">ParseLineList</text>
<rect x="539.20" y="765.85" width="132.10" height="25.05" fill="#fff" stroke="#ff0000" stroke-width="1.35"/>
<text x="605.25" y="781.67" text-anchor="middle" textLength="111.48" lengthAdjust="spacingAndGlyphs">Parser::getLineID</text>
<rect x="547.70" y="968.60" width="114.60" height="25.05" fill="#fff" stroke="#111" stroke-width="1.35"/>
<text x="605.00" y="984.42" text-anchor="middle" textLength="94.00" lengthAdjust="spacingAndGlyphs">Parser::getline</text>
<rect x="331.45" y="1023.35" width="126.35" height="25.30" fill="#fff" stroke="#111" stroke-width="1.35"/>
<text x="394.62" y="1039.30" text-anchor="middle" textLength="104.86" lengthAdjust="spacingAndGlyphs">Parser::GetElem</text>
<rect x="769.70" y="867.10" width="158.60" height="25.55" fill="#fff" stroke="#111" stroke-width="1.35"/>
<text x="849.00" y="883.17" text-anchor="middle" textLength="137.75" lengthAdjust="spacingAndGlyphs">Parser::showLocation</text>
<rect x="783.20" y="917.60" width="131.85" height="25.30" fill="#fff" stroke="#111" stroke-width="1.35"/>
<text x="849.12" y="933.55" text-anchor="middle" textLength="111.89" lengthAdjust="spacingAndGlyphs">Parser::GetQuote</text>
<rect x="1039.70" y="917.60" width="82.60" height="25.30" fill="#fff" stroke="#111" stroke-width="1.35"/>
<text x="1081.00" y="933.55" text-anchor="middle" textLength="61.95" lengthAdjust="spacingAndGlyphs">GetString</text>
<rect x="1241.45" y="917.60" width="90.60" height="25.30" fill="#fff" stroke="#111" stroke-width="1.35"/>
<text x="1286.75" y="933.55" text-anchor="middle" textLength="69.52" lengthAdjust="spacingAndGlyphs">GetEscape</text>
<rect x="763.70" y="968.35" width="170.60" height="25.30" fill="#fff" stroke="#ff0000" stroke-width="1.35"/>
<text x="849.00" y="984.30" text-anchor="middle" textLength="148.81" lengthAdjust="spacingAndGlyphs">Parser::newlineProcess</text>
<rect x="1223.70" y="1019.10" width="125.60" height="25.30" fill="#fff" stroke="#111" stroke-width="1.35"/>
<text x="1286.50" y="1035.05" text-anchor="middle" textLength="103.59" lengthAdjust="spacingAndGlyphs">isBoundaryChar</text>
<rect x="1837.20" y="955.10" width="138.85" height="25.05" fill="#fff" stroke="#111" stroke-width="1.35"/>
<text x="1906.62" y="970.92" text-anchor="middle" textLength="117.12" lengthAdjust="spacingAndGlyphs">t_input::readarray</text>
<rect x="2283.20" y="816.60" width="62.60" height="25.30" fill="#fff" stroke="#111" stroke-width="1.35"/>
<text x="2314.50" y="832.55" text-anchor="middle" textLength="39.69" lengthAdjust="spacingAndGlyphs">fprintf</text>
<rect x="2394.95" y="816.60" width="97.35" height="25.30" fill="#fff" stroke="#111" stroke-width="1.35"/>
<text x="2443.62" y="832.55" text-anchor="middle" textLength="77.16" lengthAdjust="spacingAndGlyphs">Output::fptr</text>
<rect x="790.70" y="1070.10" width="117.10" height="24.80" fill="#fff" stroke="#111" stroke-width="1.35"/>
<text x="849.25" y="1085.80" text-anchor="middle" textLength="97.09" lengthAdjust="spacingAndGlyphs">Parser::nMatch</text>
<rect x="1018.45" y="1070.10" width="125.10" height="24.80" fill="#fff" stroke="#111" stroke-width="1.35"/>
<text x="1081.00" y="1085.80" text-anchor="middle" textLength="105.36" lengthAdjust="spacingAndGlyphs">Parser::nMatch1</text>
<rect x="1231.20" y="1069.85" width="110.85" height="25.05" fill="#fff" stroke="#111" stroke-width="1.35"/>
<text x="1286.62" y="1085.67" text-anchor="middle" textLength="90.84" lengthAdjust="spacingAndGlyphs">Parser::nWord</text>
<rect x="1473.70" y="1069.85" width="62.85" height="25.05" fill="#fff" stroke="#ff0000" stroke-width="1.35"/>
<text x="1505.12" y="1085.67" text-anchor="middle" textLength="41.64" lengthAdjust="spacingAndGlyphs">nWord</text>
<rect x="1251.70" y="1120.60" width="69.60" height="25.30" fill="#fff" stroke="#111" stroke-width="1.35"/>
<text x="1286.50" y="1136.55" text-anchor="middle" textLength="47.89" lengthAdjust="spacingAndGlyphs">nMatch</text>
<rect x="1469.70" y="1120.60" width="70.60" height="25.30" fill="#fff" stroke="#111" stroke-width="1.35"/>
<text x="1505.00" y="1136.55" text-anchor="middle" textLength="47.67" lengthAdjust="spacingAndGlyphs">strstr_s</text>
<rect x="2061.20" y="1076.60" width="165.35" height="25.30" fill="#fff" stroke="#111" stroke-width="1.35"/>
<text x="2143.88" y="1092.55" text-anchor="middle" textLength="144.22" lengthAdjust="spacingAndGlyphs">t_cpu_i::printDataPath</text>
<rect x="359.45" y="1124.60" width="69.60" height="25.30" fill="#fff" stroke="#111" stroke-width="1.35"/>
<text x="394.25" y="1140.55" text-anchor="middle" textLength="47.58" lengthAdjust="spacingAndGlyphs">t_cpu::i</text>
<rect x="151.20" y="1175.35" width="110.60" height="24.80" fill="#fff" stroke="#111" stroke-width="1.35"/>
<text x="206.50" y="1191.05" text-anchor="middle" textLength="88.44" lengthAdjust="spacingAndGlyphs">prt_constants</text>
<rect x="339.20" y="1175.35" width="110.60" height="24.80" fill="#fff" stroke="#111" stroke-width="1.35"/>
<text x="394.50" y="1191.05" text-anchor="middle" textLength="88.75" lengthAdjust="spacingAndGlyphs">t_cpu_i::nCPU</text>
<rect x="320.45" y="1276.35" width="147.85" height="25.30" fill="#fff" stroke="#111" stroke-width="1.35"/>
<text x="394.38" y="1292.30" text-anchor="middle" textLength="125.88" lengthAdjust="spacingAndGlyphs">prt_phys_constants</text>
<rect x="1808.70" y="1272.60" width="195.85" height="25.30" fill="#fff" stroke="#111" stroke-width="1.35"/>
<text x="1906.62" y="1288.55" text-anchor="middle" textLength="174.91" lengthAdjust="spacingAndGlyphs">t_physconst::prt_constants</text>
<rect x="517.70" y="1323.60" width="174.85" height="40.30" fill="#fff" stroke="#111" stroke-width="1.35"/>
<text x="605.12" y="1339.55" text-anchor="middle" textLength="150.53" lengthAdjust="spacingAndGlyphs">Singleton&lt; module_list</text>
<text x="605.12" y="1354.55" text-anchor="middle" textLength="43.56" lengthAdjust="spacingAndGlyphs">&gt;::Inst</text>
<rect x="2054.20" y="1356.60" width="180.10" height="25.30" fill="#fff" stroke="#111" stroke-width="1.35"/>
<text x="2144.25" y="1372.55" text-anchor="middle" textLength="157.77" lengthAdjust="spacingAndGlyphs">t_prt_matrix::setSpecies</text>
</svg></body></html>
